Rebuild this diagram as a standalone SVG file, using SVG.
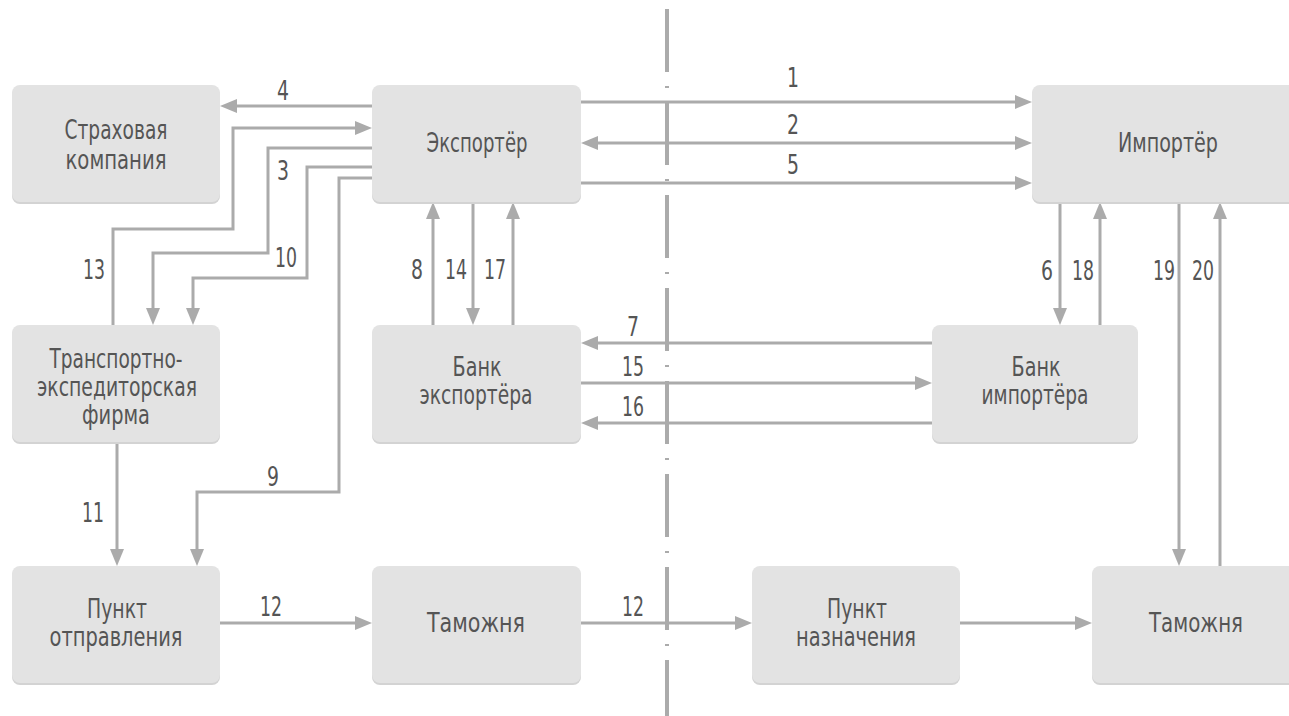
<svg xmlns="http://www.w3.org/2000/svg" width="1289" height="716" viewBox="0 0 1289 716">
<defs>
<style>
.box{fill:#e3e3e3}
.sh{fill:#d3d3d3}
.t{font-family:"DejaVu Sans Condensed","DejaVu Sans",sans-serif;font-size:27px;fill:#555555;text-anchor:middle}
.n{font-family:"DejaVu Sans Condensed","DejaVu Sans",sans-serif;font-size:26px;fill:#555555;text-anchor:middle}
.c{fill:none;stroke:#ababab;stroke-width:3}
.a{marker-end:url(#ah)}
.axis{stroke:#ababab;stroke-width:4;stroke-dasharray:63 14 2 14;fill:none}
</style>
<marker id="ah" markerUnits="userSpaceOnUse" markerWidth="17" markerHeight="14" refX="3" refY="7" orient="auto-start-reverse">
<path d="M0,0 L17,7 L0,14 z" fill="#ababab"/>
</marker>
</defs>
<rect width="1289" height="716" fill="#ffffff"/>

<g id="connectors">
<path class="c a" d="M581,102 H1018"/>
<path class="c a" d="M595,143 H1018" marker-start="url(#ah)"/>
<path class="c a" d="M581,183 H1018"/>
<path class="c a" d="M372,106 H234"/>
<path class="c a" d="M113,325 V229 H233 V128 H358"/>
<path class="c a" d="M372,148 H268 V253 H153 V311"/>
<path class="c a" d="M372,167 H307 V278 H193 V311"/>
<path class="c a" d="M372,178 H339 V492 H197 V552"/>
<path class="c a" d="M117,442 V552"/>
<path class="c a" d="M433,325 V216"/>
<path class="c a" d="M473,202 V311"/>
<path class="c a" d="M513,325 V216"/>
<path class="c a" d="M932,343 H595"/>
<path class="c a" d="M581,383 H918"/>
<path class="c a" d="M932,423 H595"/>
<path class="c a" d="M1060,202 V311"/>
<path class="c a" d="M1100,325 V216"/>
<path class="c a" d="M1179,202 V552"/>
<path class="c a" d="M1220,566 V216"/>
<path class="c a" d="M220,623 H358"/>
<path class="c a" d="M581,623 H738"/>
<path class="c a" d="M960,623 H1078"/>
<path class="axis" d="M667,9 V716"/>
<g id="labels">
<text class="n" x="283" y="100" textLength="12" lengthAdjust="spacingAndGlyphs">4</text>
<text class="n" x="283" y="180" textLength="12" lengthAdjust="spacingAndGlyphs">3</text>
<text class="n" x="94" y="279" textLength="22" lengthAdjust="spacingAndGlyphs">13</text>
<text class="n" x="286" y="267" textLength="22" lengthAdjust="spacingAndGlyphs">10</text>
<text class="n" x="273" y="486" textLength="12" lengthAdjust="spacingAndGlyphs">9</text>
<text class="n" x="93" y="522" textLength="22" lengthAdjust="spacingAndGlyphs">11</text>
<text class="n" x="417" y="279" textLength="12" lengthAdjust="spacingAndGlyphs">8</text>
<text class="n" x="456" y="279" textLength="22" lengthAdjust="spacingAndGlyphs">14</text>
<text class="n" x="495" y="279" textLength="22" lengthAdjust="spacingAndGlyphs">17</text>
<text class="n" x="793" y="87" textLength="12" lengthAdjust="spacingAndGlyphs">1</text>
<text class="n" x="793" y="134" textLength="12" lengthAdjust="spacingAndGlyphs">2</text>
<text class="n" x="793" y="174" textLength="12" lengthAdjust="spacingAndGlyphs">5</text>
<text class="n" x="633" y="336" textLength="12" lengthAdjust="spacingAndGlyphs">7</text>
<text class="n" x="633" y="376" textLength="22" lengthAdjust="spacingAndGlyphs">15</text>
<text class="n" x="633" y="416" textLength="22" lengthAdjust="spacingAndGlyphs">16</text>
<text class="n" x="1047" y="280" textLength="12" lengthAdjust="spacingAndGlyphs">6</text>
<text class="n" x="1083" y="280" textLength="22" lengthAdjust="spacingAndGlyphs">18</text>
<text class="n" x="1164" y="280" textLength="22" lengthAdjust="spacingAndGlyphs">19</text>
<text class="n" x="1203" y="280" textLength="22" lengthAdjust="spacingAndGlyphs">20</text>
<text class="n" x="271" y="616" textLength="22" lengthAdjust="spacingAndGlyphs">12</text>
<text class="n" x="633" y="616" textLength="22" lengthAdjust="spacingAndGlyphs">12</text>
</g>
</g>

<g id="strah">
<rect class="sh" x="12" y="87" width="208" height="117" rx="8"/>
<rect class="box" x="12" y="85" width="208" height="117" rx="8"/>
<text class="t" x="116" y="139" textLength="103" lengthAdjust="spacingAndGlyphs">Страховая</text>
<text class="t" x="116" y="169" textLength="101" lengthAdjust="spacingAndGlyphs">компания</text>
</g>
<g id="exporter">
<rect class="sh" x="372" y="87" width="209" height="117" rx="8"/>
<rect class="box" x="372" y="85" width="209" height="117" rx="8"/>
<text class="t" x="477" y="152" textLength="101" lengthAdjust="spacingAndGlyphs">Экспортёр</text>
</g>
<g id="importer">
<rect class="sh" x="1032" y="87" width="280" height="117" rx="8"/>
<rect class="box" x="1032" y="85" width="280" height="117" rx="8"/>
<text class="t" x="1168" y="152" textLength="100" lengthAdjust="spacingAndGlyphs">Импортёр</text>
</g>
<g id="transport">
<rect class="sh" x="12" y="327" width="208" height="117" rx="8"/>
<rect class="box" x="12" y="325" width="208" height="117" rx="8"/>
<text class="t" x="116" y="368" textLength="133" lengthAdjust="spacingAndGlyphs">Транспортно-</text>
<text class="t" x="117" y="396" textLength="160" lengthAdjust="spacingAndGlyphs">экспедиторская</text>
<text class="t" x="116" y="424" textLength="68" lengthAdjust="spacingAndGlyphs">фирма</text>
</g>
<g id="bank-exporter">
<rect class="sh" x="372" y="327" width="209" height="117" rx="8"/>
<rect class="box" x="372" y="325" width="209" height="117" rx="8"/>
<text class="t" x="477" y="376" textLength="49" lengthAdjust="spacingAndGlyphs">Банк</text>
<text class="t" x="476" y="404" textLength="113" lengthAdjust="spacingAndGlyphs">экспортёра</text>
</g>
<g id="bank-importer">
<rect class="sh" x="932" y="327" width="206" height="117" rx="8"/>
<rect class="box" x="932" y="325" width="206" height="117" rx="8"/>
<text class="t" x="1036" y="376" textLength="49" lengthAdjust="spacingAndGlyphs">Банк</text>
<text class="t" x="1035" y="404" textLength="107" lengthAdjust="spacingAndGlyphs">импортёра</text>
</g>
<g id="punkt-otpr">
<rect class="sh" x="12" y="568" width="208" height="117" rx="8"/>
<rect class="box" x="12" y="566" width="208" height="117" rx="8"/>
<text class="t" x="117" y="618" textLength="60" lengthAdjust="spacingAndGlyphs">Пункт</text>
<text class="t" x="116" y="646" textLength="133" lengthAdjust="spacingAndGlyphs">отправления</text>
</g>
<g id="tamozhnya-1">
<rect class="sh" x="372" y="568" width="209" height="117" rx="8"/>
<rect class="box" x="372" y="566" width="209" height="117" rx="8"/>
<text class="t" x="476" y="632" textLength="98" lengthAdjust="spacingAndGlyphs">Таможня</text>
</g>
<g id="punkt-nazn">
<rect class="sh" x="752" y="568" width="208" height="117" rx="8"/>
<rect class="box" x="752" y="566" width="208" height="117" rx="8"/>
<text class="t" x="857" y="618" textLength="60" lengthAdjust="spacingAndGlyphs">Пункт</text>
<text class="t" x="856" y="646" textLength="120" lengthAdjust="spacingAndGlyphs">назначения</text>
</g>
<g id="tamozhnya-2">
<rect class="sh" x="1092" y="568" width="220" height="117" rx="8"/>
<rect class="box" x="1092" y="566" width="220" height="117" rx="8"/>
<text class="t" x="1196" y="632" textLength="94" lengthAdjust="spacingAndGlyphs">Таможня</text>
</g>
</svg>
